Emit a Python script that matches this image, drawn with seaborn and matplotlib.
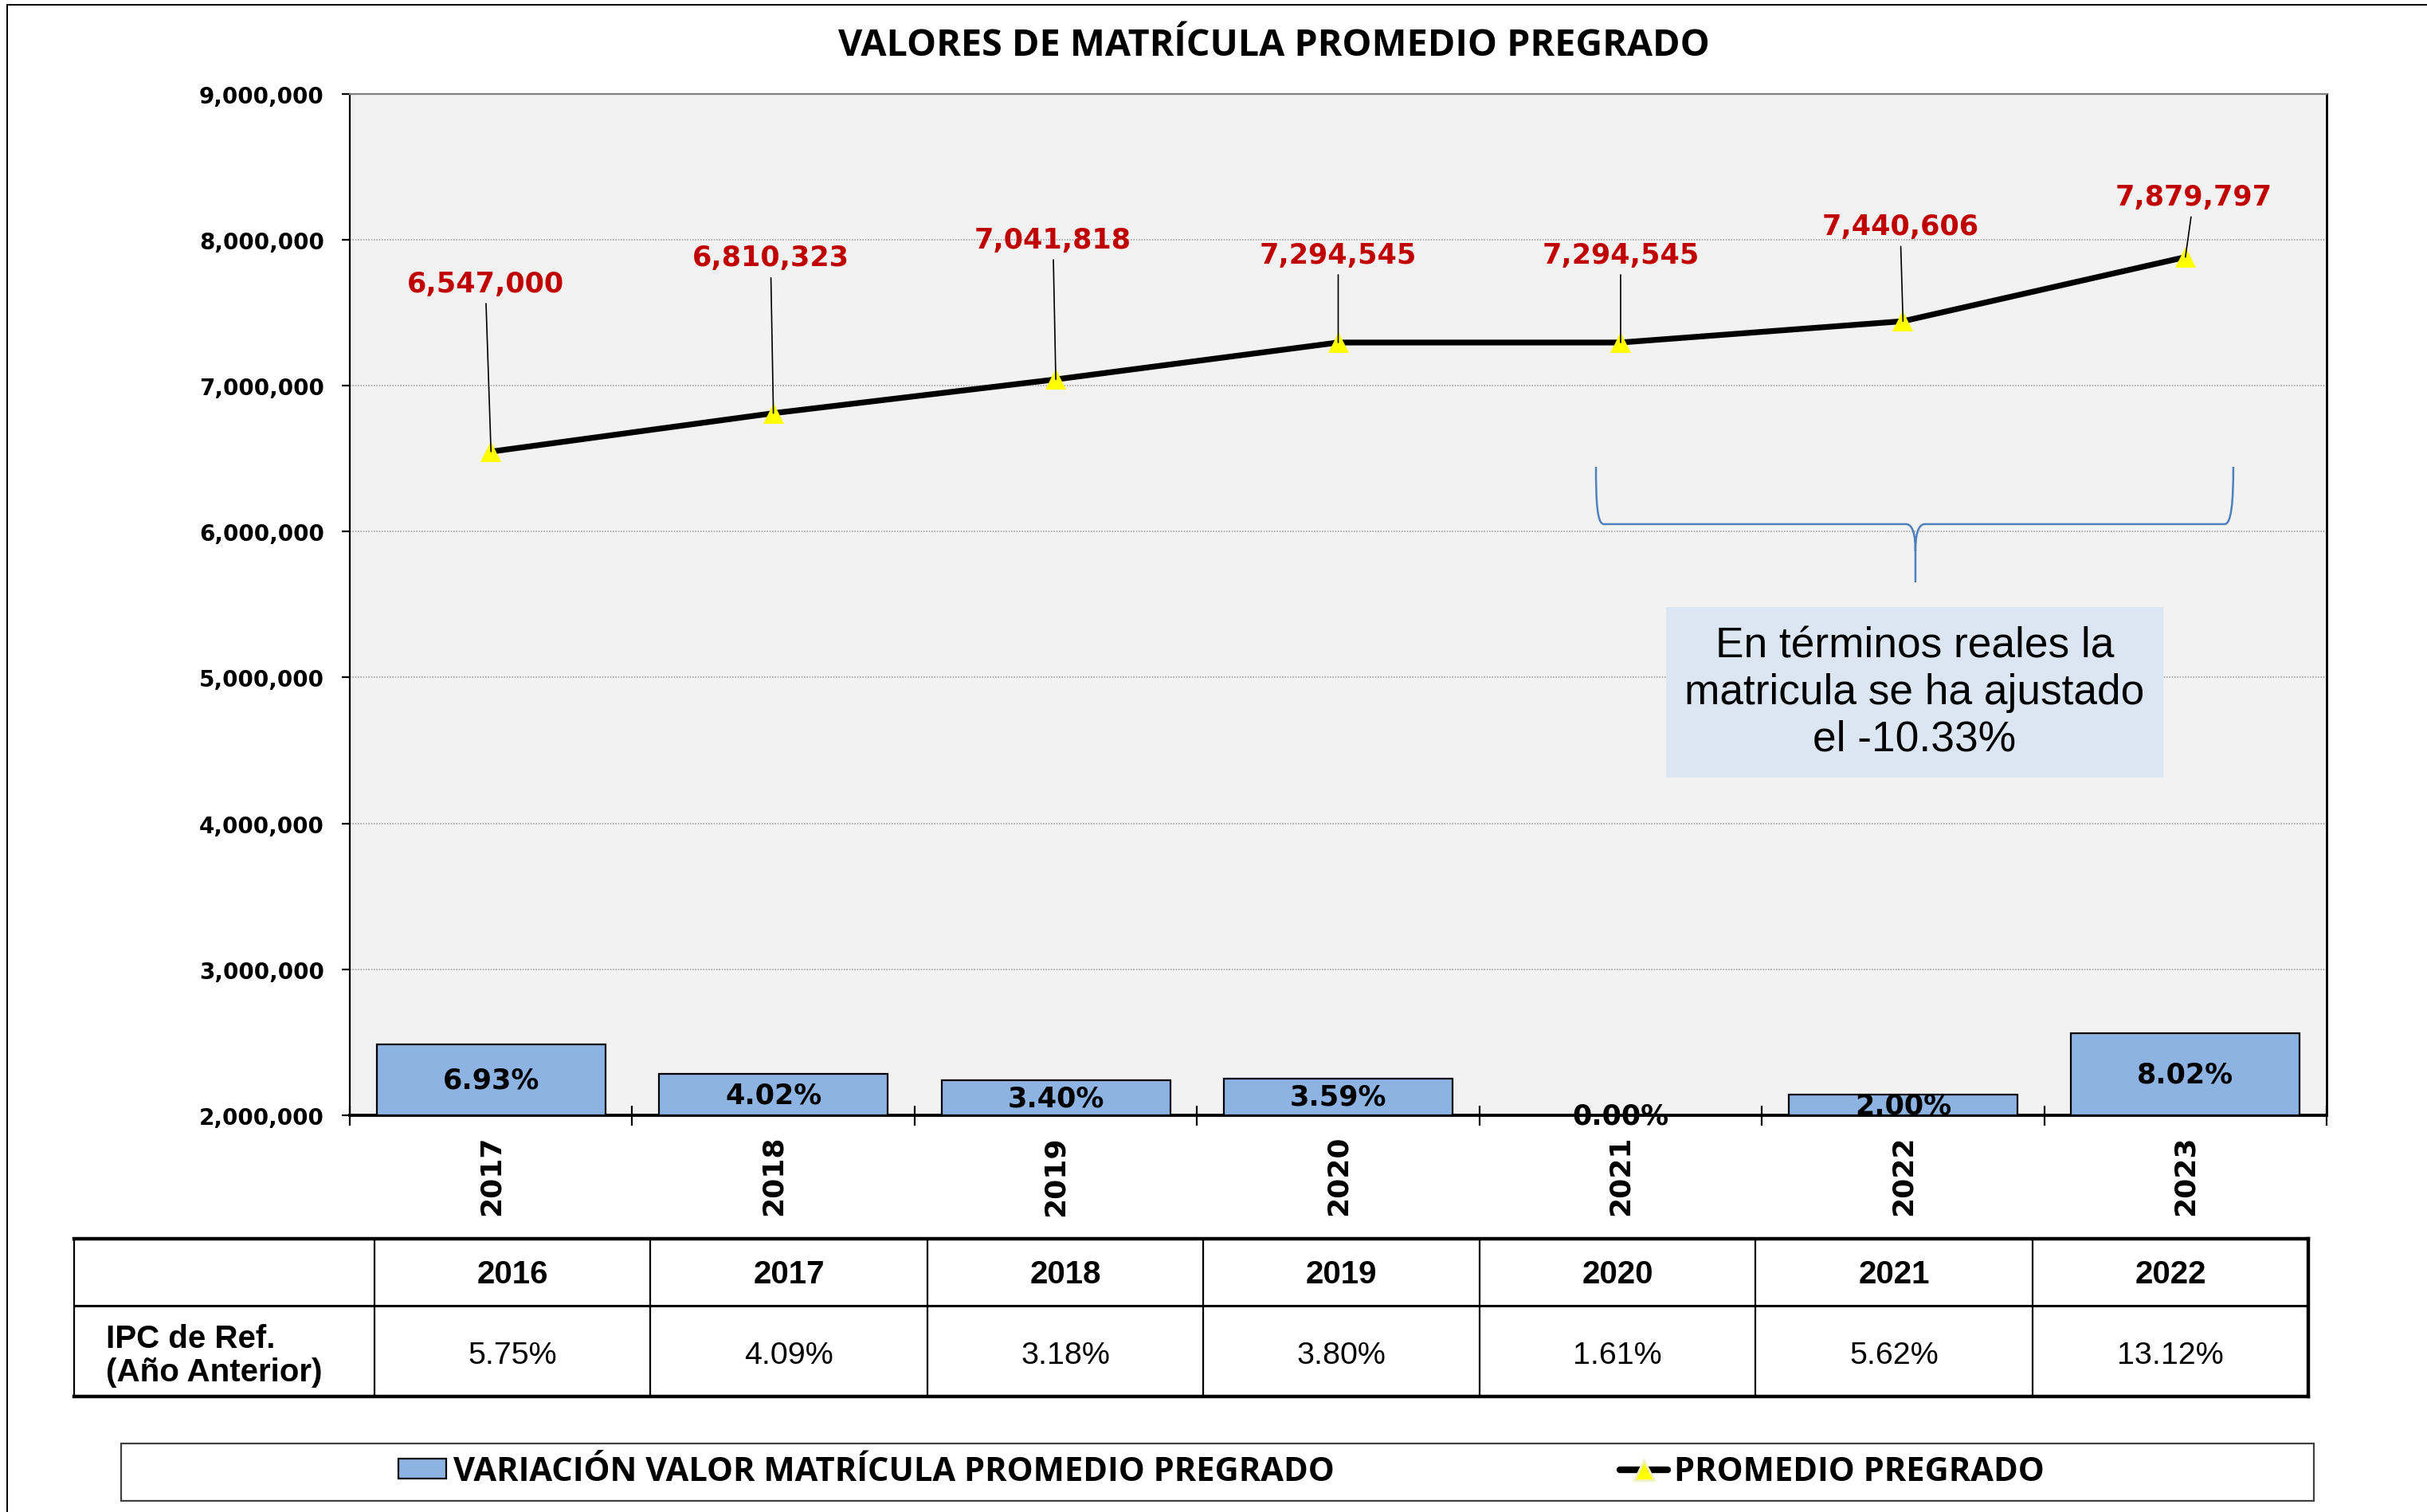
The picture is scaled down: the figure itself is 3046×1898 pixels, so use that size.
import numpy as np
import seaborn as sns
import matplotlib.pyplot as plt
from matplotlib.patches import Rectangle, PathPatch, Patch
from matplotlib.path import Path
from matplotlib.lines import Line2D

years = ['2017', '2018', '2019', '2020', '2021', '2022', '2023']
promedio = [6547000, 6810323, 7041818, 7294545, 7294545, 7440606, 7879797]
variacion = [6.93, 4.02, 3.40, 3.59, 0.00, 2.00, 8.02]
ipc_years = ['2016', '2017', '2018', '2019', '2020', '2021', '2022']
ipc_ref = ['5.75%', '4.09%', '3.18%', '3.80%', '1.61%', '5.62%', '13.12%']
nota = 'En términos reales la\nmatricula se ha ajustado\nel -10.33%'

# where the red value labels sit (data units)
lbl_dx = [-0.02, -0.01, -0.01, 0.0, 0.0, -0.01, 0.03]
lbl_y = [7.70e6, 7.876e6, 8.0e6, 7.897e6, 7.897e6, 8.091e6, 8.293e6]

W, H = 3046, 1899
fig = plt.figure(figsize=(W / 200, H / 200), dpi=200)


def fx(px):
    return px / W


def fy(py):
    return 1 - py / H


ax = fig.add_axes([fx(439), fy(1401), (2920 - 439) / W, (1401 - 118.5) / H])
ax.set_facecolor('#F2F2F2')
ax2 = ax.twinx()

xpos = np.arange(len(years))
sns.lineplot(x=xpos, y=promedio, ax=ax, color='black', lw=2.6, errorbar=None,
             marker='^', markersize=9.5, markerfacecolor='yellow',
             markeredgecolor='yellow', markeredgewidth=0, zorder=3)

sns.barplot(x=years, y=variacion, ax=ax2, color='#8DB3E2', saturation=1,
            edgecolor='black', linewidth=0.8, width=0.81)
ax2.bar_label(ax2.containers[0], labels=[f'{v:.2f}%' for v in variacion],
              label_type='center', fontsize=12.6, fontweight='bold')
ax2.set_ylim(0, 100)
ax2.set_ylabel('')
ax2.tick_params(right=False, labelright=False)
for s in ax2.spines.values():
    s.set_visible(False)

ax.set_ylim(2e6, 9e6)
yt = list(range(2000000, 9000001, 1000000))
ax.set_yticks(yt, labels=[f'{t:,}' for t in yt], fontsize=10, fontweight='bold')
ax.tick_params(axis='y', length=3.6, width=0.8, pad=8)
ax.set_xlim(-0.5, len(years) - 0.5)
ax.set_xticks(xpos, labels=years, rotation=90, fontsize=13, fontweight='bold')
ax.set_xticks(np.arange(-0.5, len(years), 1), minor=True)
ax.tick_params(axis='x', which='major', length=0, pad=9)
ax.tick_params(axis='x', which='minor', direction='inout', length=9, width=0.8)
ax.set_xlabel('')
ax.set_ylabel('')
ax.set_axisbelow(True)
ax.yaxis.grid(True, color='#A6A6A6', linestyle=(0, (1, 1)), lw=0.6)

ax.spines['left'].set_linewidth(0.8)
ax.spines['right'].set_linewidth(1.0)
ax.spines['top'].set_color('#7F7F7F')
ax.spines['top'].set_linewidth(0.8)
ax.spines['bottom'].set_linewidth(1.4)

for i, v in enumerate(promedio):
    ax.annotate(f'{v:,}', xy=(i, v), xytext=(i + lbl_dx[i], lbl_y[i]),
                ha='center', va='center', color='#C00000', fontsize=12.6,
                fontweight='bold', zorder=4,
                arrowprops=dict(arrowstyle='-', color='black', lw=0.6,
                                shrinkA=1, shrinkB=0))

# brace
verts = [(0.6304, 0.6347), (0.6304, 0.60), (0.6310, 0.5786), (0.6344, 0.5786),
         (0.7872, 0.5786), (0.7910, 0.5786), (0.7920, 0.566), (0.7920, 0.552),
         (0.7920, 0.5216),
         (0.7920, 0.552), (0.7920, 0.566), (0.7930, 0.5786), (0.7968, 0.5786),
         (0.9484, 0.5786), (0.9518, 0.5786), (0.9528, 0.60), (0.9528, 0.6347)]
codes = [Path.MOVETO, Path.CURVE4, Path.CURVE4, Path.CURVE4,
         Path.LINETO, Path.CURVE4, Path.CURVE4, Path.CURVE4,
         Path.LINETO,
         Path.MOVETO, Path.CURVE4, Path.CURVE4, Path.CURVE4,
         Path.LINETO, Path.CURVE4, Path.CURVE4, Path.CURVE4]
ax.add_patch(PathPatch(Path(verts, codes), transform=ax.transAxes, fill=False,
                       ec='#4F81BD', lw=0.9, zorder=3))
ax.add_patch(Rectangle((0.6659, 0.3306), 0.2515, 0.1669, transform=ax.transAxes,
                       fc='#DCE6F2', ec='none', zorder=3))
ax.text(0.7916, 0.414, nota, transform=ax.transAxes, ha='center', va='center',
        fontsize=19.2, family='Liberation Sans', linespacing=1.22, zorder=4)

fig.text(fx(1599), fy(58), 'VALORES DE MATRÍCULA PROMEDIO PREGRADO',
         ha='center', va='center', fontsize=16.8, fontweight='bold', family='Open Sans')

# IPC table
tax = fig.add_axes([fx(93), fy(1754), (2897 - 93) / W, (1754 - 1556) / H])
tax.set_xlim(0, 1)
tax.set_ylim(0, 1)
tax.axis('off')
edges = [0, .1345, .2578, .3820, .5053, .6291, .7525, .8766, 1]
tax.axhline(1, color='black', lw=1.6, clip_on=False)
tax.axhline(0, color='black', lw=1.6, clip_on=False)
tax.axhline(0.576, color='black', lw=1.1, clip_on=False)
tax.axvline(0, color='black', lw=0.8, clip_on=False)
tax.axvline(1, color='black', lw=1.6, clip_on=False)
for e in edges[1:-1]:
    tax.axvline(e, color='black', lw=0.8, clip_on=False)
for j in range(len(ipc_years)):
    cx = (edges[j + 1] + edges[j + 2]) / 2
    tax.text(cx, 0.778, ipc_years[j], ha='center', va='center', fontsize=14.5,
             fontweight='bold', family='Liberation Sans')
    tax.text(cx, 0.263, ipc_ref[j], ha='center', va='center', fontsize=14.2,
             family='Liberation Sans')
tax.text(0.0143, 0.263, 'IPC de Ref.\n(Año Anterior)', ha='left', va='center',
         fontsize=14.5, fontweight='bold', family='Liberation Sans', linespacing=1.15)

# legend
fig.add_artist(Rectangle((fx(152), fy(1885)), (2904 - 152) / W, 72 / H,
                         transform=fig.transFigure, fill=False, ec='#404040', lw=0.8))
handles = [Patch(fc='#8DB3E2', ec='black', lw=0.8),
           Line2D([0], [0], color='black', lw=3, marker='^', ms=9, mfc='yellow',
                  mec='#F0F0C0', solid_capstyle='round')]
fig.legend(handles, ['VARIACIÓN VALOR MATRÍCULA PROMEDIO PREGRADO', 'PROMEDIO PREGRADO'],
           ncol=2, mode='expand', loc='center',
           bbox_to_anchor=(fx(500), fy(1885), (2566 - 500) / W, 72 / H),
           frameon=False, borderpad=0, borderaxespad=0, handlelength=1.45,
           handleheight=0.55, handletextpad=0.2,
           prop=dict(family='Open Sans', weight='bold', size=15))

fig.add_artist(Rectangle((fx(9), -0.05), 1.2, fy(7) + 0.05, transform=fig.transFigure,
                         fill=False, ec='black', lw=0.7))

fig.savefig('out.png', dpi=200)
